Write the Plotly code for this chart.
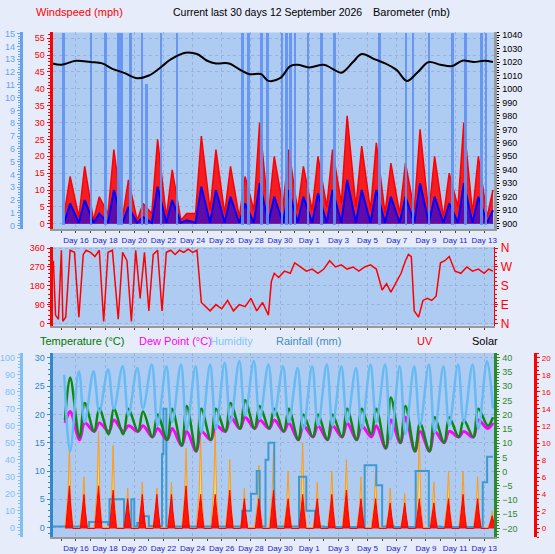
import plotly.graph_objects as go

W, H = 555, 554
days = list(range(15, 45))
tick_days = [16, 18, 20, 22, 24, 26, 28, 30, 32, 34, 36, 38, 40, 42, 44]
tick_text = ["Day 16", "Day 18", "Day 20", "Day 22", "Day 24", "Day 26", "Day 28", "Day 30",
             "Day 1", "Day 3", "Day 5", "Day 7", "Day 9", "Day 11", "Day 13"]

# Wind (mph): daily peak gust, night low, average peak
gust_peak = [14, 17, 8, 22, 13, 6, 25, 16, 3, 26, 22, 17, 14, 30, 20, 22, 17, 20, 22, 32, 23, 24, 18, 18, 28, 20, 15, 30, 20, 10]
gust_low = [3, 2, 1, 3, 2, 1, 3, 2, 1, 3, 4, 3, 2, 4, 3, 5, 4, 4, 5, 6, 5, 4, 3, 3, 4, 3, 2, 5, 3, 2]
avg_peak = [6, 7, 3, 10, 5, 2, 11, 7, 1, 11, 10, 8, 6, 12, 8, 10, 8, 9, 10, 13, 10, 10, 8, 8, 12, 8, 6, 12, 8, 4]

# Rain-rate style vertical bars (blue 0-15 axis)
bar_t = [15.1, 17.0, 18.0, 18.9, 19.1, 19.7, 20.5, 20.8, 21.8, 22.9, 27.4, 27.8, 28.7, 29.1,
         30.1, 30.4, 30.7, 31.0, 31.9, 32.8, 33.7, 36.8, 38.6, 39.1, 40.2, 41.8, 42.7, 43.8, 44.1]
bar_v = [15, 15, 15, 15, 15, 15, 15, 11, 15, 15, 15, 15, 15, 15,
         15, 15, 15, 15, 15, 15, 15, 15, 15, 15, 15, 15, 15, 15, 15]

# Barometer (mb)
baro_t = [14.4, 15.0, 16.0, 17.0, 17.8, 18.5, 19.3, 20.2, 21.0, 21.8, 22.5, 23.5, 24.3, 25.0, 25.6,
          26.5, 27.3, 27.9, 28.7, 29.2, 30.0, 30.7, 31.2, 32.0, 33.0, 33.6, 34.2, 35.0, 35.6, 36.5,
          37.2, 38.0, 38.7, 39.4, 40.2, 41.0, 41.8, 42.5, 43.3, 44.0, 44.6]
baro_v = [1019, 1018, 1021, 1020, 1019, 1015, 1012, 1008, 1010, 1016, 1022, 1027, 1026, 1021, 1019,
          1019, 1014, 1011, 1011, 1006, 1008, 1017, 1018, 1016, 1018, 1015, 1012, 1020, 1026, 1022,
          1019, 1014, 1006, 1012, 1020, 1018, 1017, 1021, 1020, 1021, 1020]

# Wind direction (deg)
wd_t = [14.45, 14.6, 14.8, 15.0, 15.1, 15.3, 15.6, 15.9, 16.2, 16.5,
        16.7, 17.0, 17.3, 17.6, 17.9, 18.2, 18.5, 18.9, 19.2, 19.5,
        19.8, 20.1, 20.4, 20.7, 21.0, 21.3, 21.6, 21.9, 22.2, 22.5,
        22.8, 23.1, 23.4, 23.7, 24.0, 24.3, 24.6, 24.9, 25.2, 25.6,
        26.0, 26.4, 26.8, 27.2, 27.6, 28.0, 28.4, 28.8, 29.2, 29.4,
        29.6, 29.9, 30.3, 30.7, 31.0, 31.4, 31.8, 32.2, 32.6, 33.0,
        33.4, 33.8, 34.2, 34.6, 35.0, 35.4, 35.8, 36.2, 36.6, 37.0,
        37.3, 37.6, 38.0, 38.3, 38.6, 38.8, 39.0, 39.2, 39.5, 39.8,
        40.1, 40.4, 40.7, 41.0, 41.3, 41.6, 42.0, 42.4, 42.8, 43.2,
        43.6, 44.0, 44.3, 44.6]
wd_v = [300, 40, 20, 350, 10, 30, 350, 340, 30, 330,
        350, 340, 320, 350, 10, 340, 350, 20, 340, 300,
        10, 350, 120, 340, 60, 330, 350, 60, 340, 350,
        330, 350, 340, 355, 340, 350, 100, 80, 60, 90,
        70, 110, 60, 90, 80, 120, 60, 100, 40, 200,
        240, 220, 250, 240, 290, 270, 250, 260, 240, 260,
        300, 270, 280, 260, 270, 250, 270, 280, 260, 160,
        190, 150, 200, 240, 300, 330, 320, 60, 30, 110,
        120, 110, 130, 290, 300, 320, 250, 240, 270, 250,
        260, 240, 260, 250]

# Temperature / dew point (°C) daily max & min, humidity (%) daily max & min
temp_max = [26.5, 22, 21, 21, 21, 20.5, 20, 21, 21.5, 21, 21, 22, 22.5, 21.5, 21, 21, 20, 20, 20, 21, 21, 21, 23, 21.5, 18.5, 19.5, 19.5, 19, 21, 19.5]
temp_min = [19, 16, 17, 16.5, 16.5, 17, 16, 15.5, 14.5, 13.5, 15.5, 17, 17.5, 17.5, 17.5, 17, 15.5, 16, 15.5, 16, 15.5, 16.5, 14, 15, 13.5, 13.5, 15, 16, 16, 18]
dew_max = [20.5, 18.5, 18.5, 19, 18, 18, 17.5, 17.5, 17, 17, 18, 19.5, 19.5, 19, 19, 18.5, 18, 18, 18, 18.5, 18, 18, 19, 19.5, 17, 17, 17, 17, 19, 18.5]
dew_min = [18.5, 15.5, 17, 17, 17, 17, 16, 15.5, 14.5, 13.5, 15.5, 17, 17.5, 17.5, 17.5, 17, 15.5, 16, 15.5, 16, 15.5, 16, 14, 15, 13.5, 13.5, 15, 16, 16, 17.5]
hum_max = [90, 92, 92, 93, 95, 94, 96, 95, 96, 95, 96, 97, 98, 98, 96, 95, 94, 95, 96, 95, 94, 96, 96, 95, 95, 96, 95, 96, 96, 98]
hum_min = [45, 62, 68, 70, 66, 70, 60, 62, 58, 56, 58, 62, 66, 64, 66, 62, 58, 60, 60, 62, 58, 62, 52, 55, 60, 56, 60, 62, 58, 70]

# Solar (scaled to left axis) and UV index daily peaks
solar_peak = [14, 9, 17, 14.5, 7, 8, 7, 8, 14, 16, 17, 12, 7, 11, 14, 10, 15, 8, 10, 12, 9, 10, 7, 6, 16, 8, 10, 10, 9, 3]
uv_peak = [5, 4, 5, 4.5, 3.5, 4, 4, 4, 5, 4, 4, 4.5, 3.5, 3.5, 4.5, 3.5, 4, 3.5, 4, 4.5, 3.5, 3.5, 3, 3, 3.5, 3, 3.5, 4, 3.5, 1.5]

# Rainfall (mm, on left scale)
rain_t = [14.4, 16.9, 18.2, 18.3, 19.3, 19.8, 20.0, 20.2, 20.6, 21.0, 21.9, 22.0, 22.2, 27.4, 28.0, 28.4, 28.6,
          29.0, 29.2, 29.6, 31.3, 31.8, 32.4, 33.0, 35.8, 36.6, 37.0, 37.8, 39.3, 40.2, 41.0, 43.9, 44.2, 44.6]
rain_v = [0.2, 1, 0.5, 5, 0.2, 5, 0.2, 0.8, 2, 0.3, 13, 21, 0.2, 3, 6, 10, 0.2,
          12, 15, 0.2, 9, 3, 0.2, 0.1, 11, 7.5, 0.2, 0.1, 10, 0.2, 0.1, 8, 12.5, 12.5]

# ---------------- build ----------------
fig = go.Figure()

def diurnal(lo, hi, lo_off, hi_off):
    t, v = [], []
    for d, a, b in zip(days, lo, hi):
        t += [d + lo_off, d + hi_off]
        v += [a, b]
    return t, v

gt, gv = diurnal(gust_low, gust_peak, 0.2, 0.6)
fig.add_trace(go.Scatter(x=gt, y=gv, mode="lines", line=dict(color="#ff0000", width=1.5),
                         fill="tozeroy", fillcolor="rgba(255,0,0,0.85)", xaxis="x", yaxis="y"))
at, av = diurnal([0.3] * 30, avg_peak, 0.2, 0.6)
fig.add_trace(go.Scatter(x=at, y=av, mode="lines", line=dict(color="#0000ff", width=2),
                         fill="tozeroy", fillcolor="rgba(0,0,255,0.6)", xaxis="x", yaxis="y"))
fig.add_trace(go.Bar(x=bar_t, y=bar_v, width=0.18, marker=dict(color="rgba(95,145,240,0.9)", line_width=0),
                     xaxis="x", yaxis="y2"))
fig.add_trace(go.Scatter(x=baro_t, y=baro_v, mode="lines", line=dict(color="black", width=2, shape="spline"),
                         xaxis="x", yaxis="y3"))

fig.add_trace(go.Scatter(x=wd_t, y=wd_v, mode="lines", line=dict(color="#ff0000", width=1.5),
                         xaxis="x2", yaxis="y4"))

ht, hv = diurnal(hum_max, hum_min, 0.2, 0.6)
fig.add_trace(go.Scatter(x=ht, y=hv, mode="lines", line=dict(color="#66bbf5", width=2.5, shape="spline"),
                         xaxis="x3", yaxis="y6"))
st, sv = [], []
for d, p in zip(days, solar_peak):
    st += [d + 0.25, d + 0.45, d + 0.55, d + 0.65, d + 0.8]
    sv += [0, p * 0.4, p, p * 0.3, 0]
fig.add_trace(go.Scatter(x=st, y=sv, mode="lines", line=dict(color="#ff9a1a", width=1),
                         fill="tozeroy", fillcolor="rgba(255,220,90,0.8)", xaxis="x3", yaxis="y7"))
ut, uvv = [], []
for d, p in zip(days, uv_peak):
    ut += [d + 0.3, d + 0.45, d + 0.55, d + 0.65, d + 0.78]
    uvv += [0, p * 0.5, p, p * 0.5, 0]
fig.add_trace(go.Scatter(x=ut, y=uvv, mode="lines", line=dict(color="#ff0000", width=1),
                         fill="tozeroy", fillcolor="rgba(255,0,0,0.9)", xaxis="x3", yaxis="y9"))
fig.add_trace(go.Scatter(x=rain_t, y=rain_v, mode="lines", line=dict(color="#3d9ad0", width=2, shape="hv"),
                         xaxis="x3", yaxis="y7"))
dt, dv = diurnal(dew_min, dew_max, 0.25, 0.6)
fig.add_trace(go.Scatter(x=dt, y=dv, mode="lines", line=dict(color="#ff00ff", width=3, shape="spline"),
                         xaxis="x3", yaxis="y7"))
tt, tv = diurnal(temp_min, temp_max, 0.25, 0.6)
fig.add_trace(go.Scatter(x=tt, y=tv, mode="lines", line=dict(color="#0a8a0a", width=2.5, shape="spline"),
                         xaxis="x3", yaxis="y7"))
fig.add_trace(go.Scatter(x=[None], y=[None], xaxis="x2", yaxis="y5"))
fig.add_trace(go.Scatter(x=[None], y=[None], xaxis="x3", yaxis="y8"))

def px(v):
    return v / W

def py(top, bottom):
    return [1 - bottom / H, 1 - top / H]

xdom = [px(52), px(497)]
font = dict(family="Liberation Sans, Arial", size=9)
grid = dict(showgrid=True, gridcolor="rgba(150,170,210,0.8)", griddash="dot", gridwidth=1)
xcommon = dict(domain=xdom, range=[14.4, 44.7], tickvals=tick_days, ticktext=tick_text,
               tickfont=dict(family="Liberation Sans, Arial", size=8, color="#2222cc"),
               ticks="outside", ticklen=2, showline=True, linecolor="#999", linewidth=2,
               minor=dict(dtick=1, ticks="outside", ticklen=2), **grid)

def yax(dom, rng, color, dtick, side="left", overlay=None, anchor=None, position=None, grid_on=False, **kw):
    d = dict(domain=dom, range=rng, dtick=dtick, tickfont=dict(font, color=color), side=side,
             showline=True, linecolor=color, linewidth=3, ticks="outside", ticklen=3, tickcolor=color,
             minor=dict(ticks="outside", ticklen=2, tickcolor=color), zeroline=False, showgrid=False)
    if grid_on:
        d.update(grid)
    if overlay:
        d["overlaying"] = overlay
    if anchor:
        d["anchor"] = anchor
    if position is not None:
        d["position"] = position
    d.update(kw)
    return d

top = py(27, 228)
mid = py(246, 326)
bot = py(354, 542)

fig.update_layout(
    width=W, height=H, margin=dict(l=0, r=0, t=0, b=0), showlegend=False,
    paper_bgcolor="#e6ecfa", plot_bgcolor="#aecbf2", bargap=0,
    xaxis=dict(xcommon, anchor="y"),
    xaxis2=dict(xcommon, anchor="y4", showticklabels=False),
    xaxis3=dict(xcommon, anchor="y7"),
    yaxis=yax(top, [-1.7, 56.7], "#ff0000", 5, anchor="x", grid_on=True),
    yaxis2=yax(top, [-0.3, 15.1], "#66a3ee", 1, overlay="y", anchor="free", position=px(20)),
    yaxis3=yax(top, [895.6, 1042], "#000000", 10, side="right", overlay="y", anchor="x", linecolor="#999"),
    yaxis4=yax(mid, [-10, 365], "#ff0000", 90, anchor="x2", grid_on=True, tickvals=[0, 90, 180, 270, 360]),
    yaxis5=yax(mid, [-10, 365], "#ff0000", 90, side="right", overlay="y4", anchor="x2",
               tickvals=[0, 90, 180, 270, 360], ticktext=["N", "E", "S", "W", "N"],
               tickfont=dict(family="Liberation Sans, Arial", size=12, color="#ff0000"), linewidth=0),
    yaxis6=yax(bot, [-5.7, 102.8], "#80c0f0", 10, overlay="y7", anchor="free", position=px(20)),
    yaxis7=yax(bot, [-1.7, 30.85], "#3388cc", 5, anchor="x3", grid_on=True),
    yaxis8=yax(bot, [-23.05, 41.7], "#2a8a2a", 5, side="right", overlay="y7", anchor="x3"),
    yaxis9=yax(bot, [-1.02, 20.56], "#ff0000", 2, side="right", overlay="y7", anchor="free",
               position=px(538), tickfont=dict(family="Liberation Sans, Arial", size=8, color="#ff0000")),
)

def label(text, x, y, color, size=11, anchor="left"):
    fig.add_annotation(text=text, x=px(x), y=1 - y / H, xref="paper", yref="paper", showarrow=False,
                       xanchor=anchor, yanchor="middle", font=dict(family="Liberation Sans, Arial", size=size, color=color))

label("Windspeed (mph)", 33, 6, "#ff0000")
label("Current last 30 days 12 September 2026", 171, 6, "#000000", size=10.5)
label("Barometer (mb)", 373, 6, "#000000")
label("Temperature (°C)", 37, 342, "#007700")
label("Dew Point (°C)", 137, 342, "#ff00ff")
label("Humidity", 208, 342, "#80c8f8")
label("Rainfall (mm)", 275, 342, "#3d8fc0")
label("UV", 417, 342, "#ff0000")
label("Solar", 472, 342, "#000000")

fig.write_html("out.html", config={"displayModeBar": False},
               post_script="document.body.style.margin='0px';document.body.style.overflow='hidden';")
